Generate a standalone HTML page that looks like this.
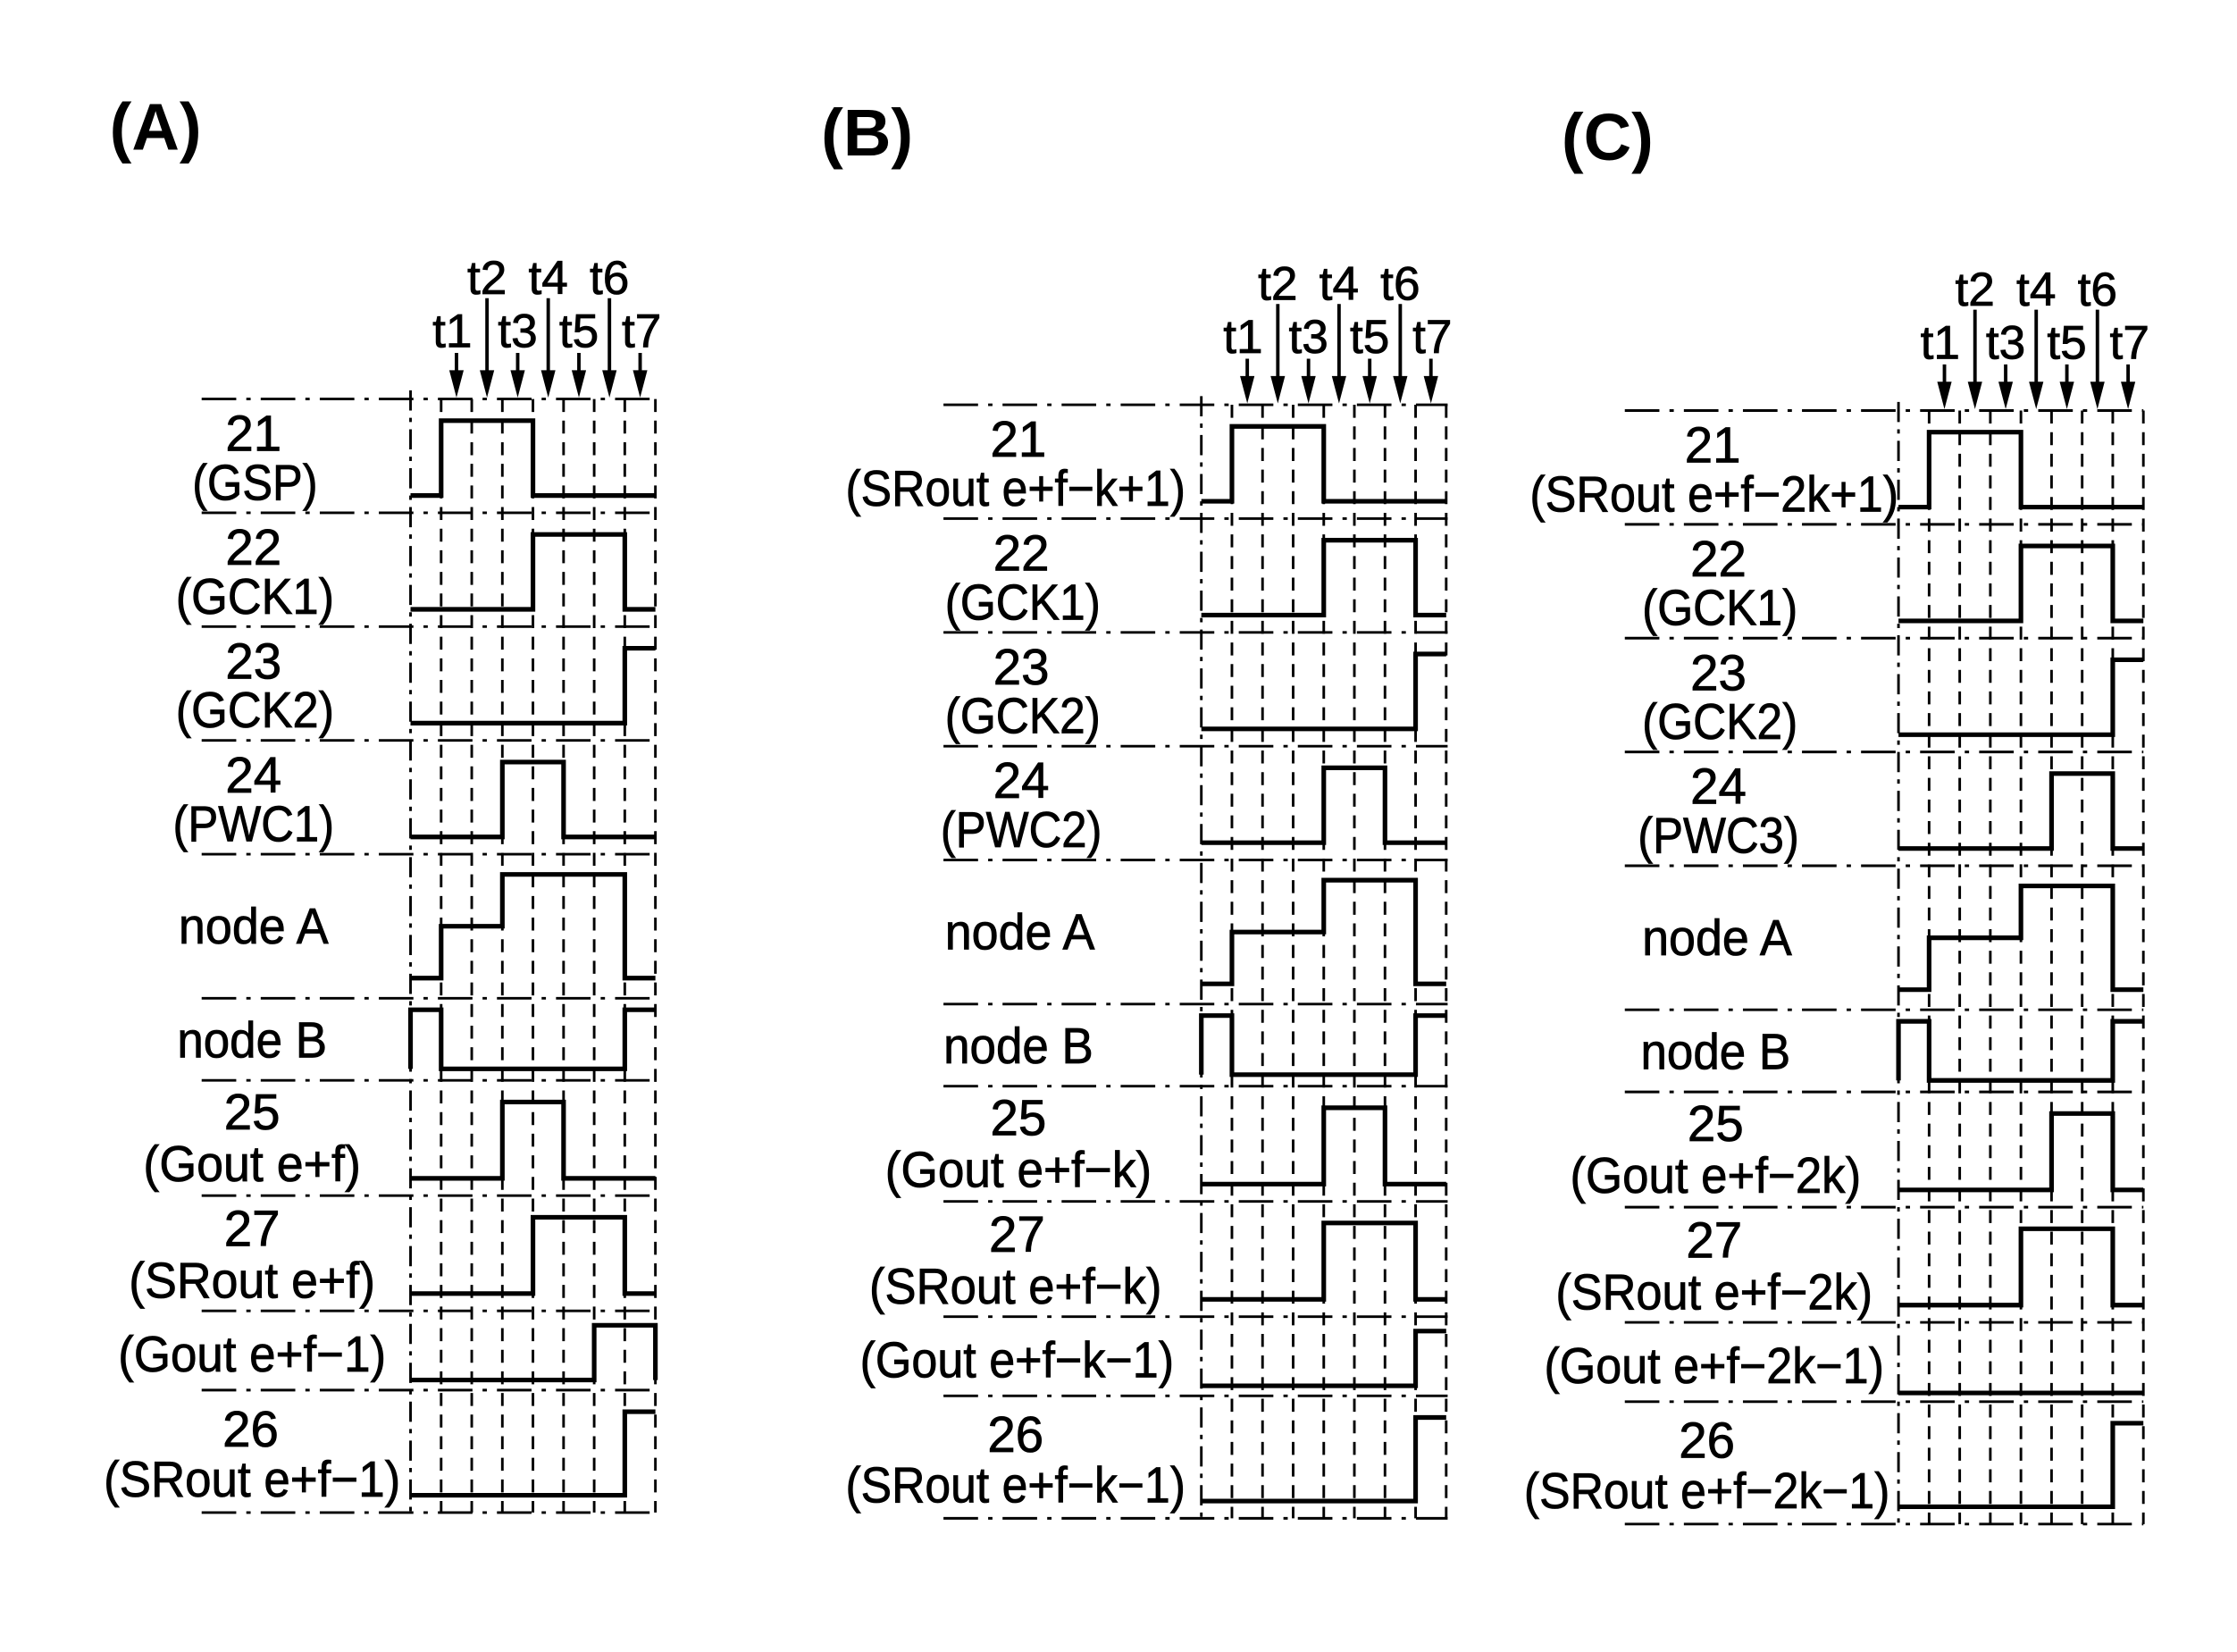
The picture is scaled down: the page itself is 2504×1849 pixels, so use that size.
<!DOCTYPE html>
<html><head><meta charset="utf-8"><style>
html,body{margin:0;padding:0;background:#fff;}
svg{display:block;}
text{font-family:"Liberation Sans",sans-serif;fill:#000;stroke:#000;stroke-width:0.5;}
.lb{font-size:35px;text-anchor:middle;}
.tt{font-size:46px;font-weight:bold;text-anchor:middle;stroke-width:0;}
.tl{font-size:33px;text-anchor:middle;}
.w{fill:none;stroke:#000;stroke-width:3.2;stroke-linejoin:miter;}
.v{stroke:#000;stroke-width:1.8;stroke-dasharray:9 6;}
.v0{stroke:#000;stroke-width:1.8;stroke-dasharray:14 5 3 5;}
.h{stroke:#000;stroke-width:1.8;stroke-dasharray:24 7 3 7;}
.ar{stroke:#000;stroke-width:2.4;}
</style></head><body>
<svg width="2504" height="1849" viewBox="0 0 1553 1146.8" preserveAspectRatio="none" xmlns="http://www.w3.org/2000/svg">
<defs>
<g id="grid">
<line class="v0" x1="0" y1="-6" x2="0" y2="773"/>
<line class="v" x1="21.25" y1="0" x2="21.25" y2="773"/>
<line class="v" x1="42.5" y1="0" x2="42.5" y2="773"/>
<line class="v" x1="63.75" y1="0" x2="63.75" y2="773"/>
<line class="v" x1="85" y1="0" x2="85" y2="773"/>
<line class="v" x1="106.25" y1="0" x2="106.25" y2="773"/>
<line class="v" x1="127.5" y1="0" x2="127.5" y2="773"/>
<line class="v" x1="148.75" y1="0" x2="148.75" y2="773"/>
<line class="v" x1="170" y1="0" x2="170" y2="773"/>
<path class="ar" d="M31.9 -32V-8M53.1 -70V-8M74.4 -32V-8M95.6 -70V-8M116.9 -32V-8M138.1 -70V-8M159.4 -32V-8"/>
<path d="M26.9 -20L36.9 -20L31.9 -1ZM48.1 -20L58.1 -20L53.1 -1ZM69.4 -20L79.4 -20L74.4 -1ZM90.6 -20L100.6 -20L95.6 -1ZM111.9 -20L121.9 -20L116.9 -1ZM133.1 -20L143.1 -20L138.1 -1ZM154.4 -20L164.4 -20L159.4 -1Z" fill="#000"/>
<text class="tl" x="29" y="-36">t1</text>
<text class="tl" x="53.1" y="-73">t2</text>
<text class="tl" x="74.4" y="-36">t3</text>
<text class="tl" x="95.6" y="-73">t4</text>
<text class="tl" x="116.9" y="-36">t5</text>
<text class="tl" x="138.1" y="-73">t6</text>
<text class="tl" x="160.4" y="-36">t7</text>
<polyline class="w" points="0,67 21.25,67 21.25,15 85,15 85,67 170,67"/>
<polyline class="w" points="0,146 85,146 85,94 148.75,94 148.75,146 170,146"/>
<polyline class="w" points="0,225 148.75,225 148.75,173 170,173"/>
<polyline class="w" points="0,465 0,424 21.25,424 21.25,465 148.75,465 148.75,424 170,424"/>
<polyline class="w" points="0,621 85,621 85,568 148.75,568 148.75,621 170,621"/>
<polyline class="w" points="0,761 148.75,761 148.75,703 170,703"/>
</g>
</defs>

<text class="tt" x="108" y="104">(A)</text>
<text class="tt" x="602" y="108">(B)</text>
<text class="tt" x="1116" y="111">(C)</text>

<!-- ===== Panel A ===== -->
<g transform="translate(0,0)">
<g>
<line class="h" x1="140" y1="277" x2="455" y2="277"/>
<line class="h" x1="140" y1="356" x2="455" y2="356"/>
<line class="h" x1="140" y1="435" x2="455" y2="435"/>
<line class="h" x1="140" y1="514" x2="455" y2="514"/>
<line class="h" x1="140" y1="593" x2="455" y2="593"/>
<line class="h" x1="140" y1="693" x2="455" y2="693"/>
<line class="h" x1="140" y1="750" x2="455" y2="750"/>
<line class="h" x1="140" y1="830" x2="455" y2="830"/>
<line class="h" x1="140" y1="910" x2="455" y2="910"/>
<line class="h" x1="140" y1="965" x2="455" y2="965"/>
<line class="h" x1="140" y1="1050" x2="455" y2="1050"/>
</g>
<g transform="translate(285,277)">
<use href="#grid"/>
<polyline class="w" points="0,304 63.75,304 63.75,252 106.25,252 106.25,304 170,304"/>
<polyline class="w" points="0,402 21.25,402 21.25,366 63.75,366 63.75,330 148.75,330 148.75,402 170,402"/>
<polyline class="w" points="0,541 63.75,541 63.75,488 106.25,488 106.25,541 170,541"/>
<polyline class="w" points="0,681 127.5,681 127.5,643 170,643 170,681"/>
</g>
<text class="lb" x="176" y="313">21</text>
<text class="lb" x="177" y="347" textLength="87" lengthAdjust="spacingAndGlyphs">(GSP)</text>
<text class="lb" x="176" y="392">22</text>
<text class="lb" x="177" y="426" textLength="110" lengthAdjust="spacingAndGlyphs">(GCK1)</text>
<text class="lb" x="176" y="471">23</text>
<text class="lb" x="177" y="505" textLength="110" lengthAdjust="spacingAndGlyphs">(GCK2)</text>
<text class="lb" x="176" y="550">24</text>
<text class="lb" x="176" y="584" textLength="112" lengthAdjust="spacingAndGlyphs">(PWC1)</text>
<text class="lb" x="176" y="655" textLength="104" lengthAdjust="spacingAndGlyphs">node A</text>
<text class="lb" x="175" y="734" textLength="104" lengthAdjust="spacingAndGlyphs">node B</text>
<text class="lb" x="175" y="784">25</text>
<text class="lb" x="175" y="820" textLength="151" lengthAdjust="spacingAndGlyphs">(Gout e+f)</text>
<text class="lb" x="175" y="865">27</text>
<text class="lb" x="175" y="901" textLength="171" lengthAdjust="spacingAndGlyphs">(SRout e+f)</text>
<text class="lb" x="175" y="952" textLength="186" lengthAdjust="spacingAndGlyphs">(Gout e+f−1)</text>
<text class="lb" x="174" y="1004">26</text>
<text class="lb" x="175" y="1039" textLength="206" lengthAdjust="spacingAndGlyphs">(SRout e+f−1)</text>
</g>

<!-- ===== Panel B ===== -->
<g transform="translate(0,4)">
<g>
<line class="h" x1="655" y1="277" x2="1005" y2="277"/>
<line class="h" x1="655" y1="356" x2="1005" y2="356"/>
<line class="h" x1="655" y1="435" x2="1005" y2="435"/>
<line class="h" x1="655" y1="514" x2="1005" y2="514"/>
<line class="h" x1="655" y1="593" x2="1005" y2="593"/>
<line class="h" x1="655" y1="693" x2="1005" y2="693"/>
<line class="h" x1="655" y1="750" x2="1005" y2="750"/>
<line class="h" x1="655" y1="830" x2="1005" y2="830"/>
<line class="h" x1="655" y1="910" x2="1005" y2="910"/>
<line class="h" x1="655" y1="965" x2="1005" y2="965"/>
<line class="h" x1="655" y1="1050" x2="1005" y2="1050"/>
</g>
<g transform="translate(834,277)">
<use href="#grid"/>
<polyline class="w" points="0,304 85,304 85,252 127.5,252 127.5,304 170,304"/>
<polyline class="w" points="0,402 21.25,402 21.25,366 85,366 85,330 148.75,330 148.75,402 170,402"/>
<polyline class="w" points="0,541 85,541 85,488 127.5,488 127.5,541 170,541"/>
<polyline class="w" points="0,681 148.75,681 148.75,643 170,643"/>
</g>
<text class="lb" x="707" y="313">21</text>
<text class="lb" x="705" y="347" textLength="236" lengthAdjust="spacingAndGlyphs">(SRout e+f−k+1)</text>
<text class="lb" x="709" y="392">22</text>
<text class="lb" x="710" y="426" textLength="108" lengthAdjust="spacingAndGlyphs">(GCK1)</text>
<text class="lb" x="709" y="471">23</text>
<text class="lb" x="710" y="505" textLength="108" lengthAdjust="spacingAndGlyphs">(GCK2)</text>
<text class="lb" x="709" y="550">24</text>
<text class="lb" x="709" y="584" textLength="112" lengthAdjust="spacingAndGlyphs">(PWC2)</text>
<text class="lb" x="708" y="655" textLength="104" lengthAdjust="spacingAndGlyphs">node A</text>
<text class="lb" x="707" y="734" textLength="104" lengthAdjust="spacingAndGlyphs">node B</text>
<text class="lb" x="707" y="784">25</text>
<text class="lb" x="707" y="820" textLength="185" lengthAdjust="spacingAndGlyphs">(Gout e+f−k)</text>
<text class="lb" x="706" y="865">27</text>
<text class="lb" x="705" y="901" textLength="203" lengthAdjust="spacingAndGlyphs">(SRout e+f−k)</text>
<text class="lb" x="706" y="952" textLength="218" lengthAdjust="spacingAndGlyphs">(Gout e+f−k−1)</text>
<text class="lb" x="705" y="1004">26</text>
<text class="lb" x="705" y="1039" textLength="236" lengthAdjust="spacingAndGlyphs">(SRout e+f−k−1)</text>
</g>

<!-- ===== Panel C ===== -->
<g transform="translate(0,8)">
<g>
<line class="h" x1="1128" y1="277" x2="1488" y2="277"/>
<line class="h" x1="1128" y1="356" x2="1488" y2="356"/>
<line class="h" x1="1128" y1="435" x2="1488" y2="435"/>
<line class="h" x1="1128" y1="514" x2="1488" y2="514"/>
<line class="h" x1="1128" y1="593" x2="1488" y2="593"/>
<line class="h" x1="1128" y1="693" x2="1488" y2="693"/>
<line class="h" x1="1128" y1="750" x2="1488" y2="750"/>
<line class="h" x1="1128" y1="830" x2="1488" y2="830"/>
<line class="h" x1="1128" y1="910" x2="1488" y2="910"/>
<line class="h" x1="1128" y1="965" x2="1488" y2="965"/>
<line class="h" x1="1128" y1="1050" x2="1488" y2="1050"/>
</g>
<g transform="translate(1318,277)">
<use href="#grid"/>
<polyline class="w" points="0,304 106.25,304 106.25,252 148.75,252 148.75,304 170,304"/>
<polyline class="w" points="0,402 21.25,402 21.25,366 85,366 85,330 148.75,330 148.75,402 170,402"/>
<polyline class="w" points="0,541 106.25,541 106.25,488 148.75,488 148.75,541 170,541"/>
<polyline class="w" points="0,682 170,682"/>
</g>
<text class="lb" x="1189" y="313">21</text>
<text class="lb" x="1190" y="347" textLength="256" lengthAdjust="spacingAndGlyphs">(SRout e+f−2k+1)</text>
<text class="lb" x="1193" y="392">22</text>
<text class="lb" x="1194" y="426" textLength="108" lengthAdjust="spacingAndGlyphs">(GCK1)</text>
<text class="lb" x="1193" y="471">23</text>
<text class="lb" x="1194" y="505" textLength="108" lengthAdjust="spacingAndGlyphs">(GCK2)</text>
<text class="lb" x="1193" y="550">24</text>
<text class="lb" x="1193" y="584" textLength="112" lengthAdjust="spacingAndGlyphs">(PWC3)</text>
<text class="lb" x="1192" y="655" textLength="104" lengthAdjust="spacingAndGlyphs">node A</text>
<text class="lb" x="1191" y="734" textLength="104" lengthAdjust="spacingAndGlyphs">node B</text>
<text class="lb" x="1191" y="784">25</text>
<text class="lb" x="1191" y="820" textLength="202" lengthAdjust="spacingAndGlyphs">(Gout e+f−2k)</text>
<text class="lb" x="1190" y="865">27</text>
<text class="lb" x="1190" y="901" textLength="220" lengthAdjust="spacingAndGlyphs">(SRout e+f−2k)</text>
<text class="lb" x="1190" y="952" textLength="236" lengthAdjust="spacingAndGlyphs">(Gout e+f−2k−1)</text>
<text class="lb" x="1185" y="1004">26</text>
<text class="lb" x="1185" y="1039" textLength="254" lengthAdjust="spacingAndGlyphs">(SRout e+f−2k−1)</text>
</g>
</svg>
</body></html>
